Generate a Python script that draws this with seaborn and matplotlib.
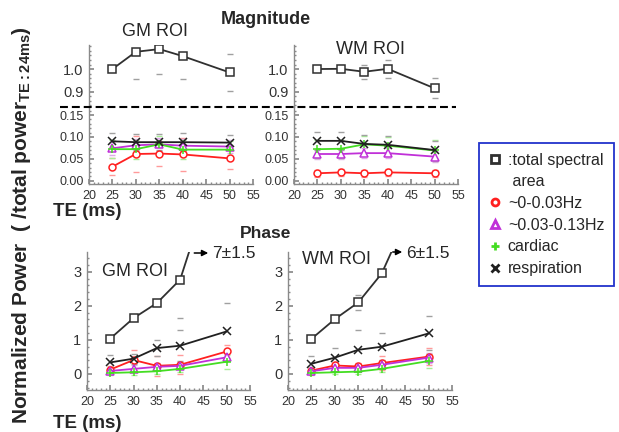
import numpy as np
import matplotlib
matplotlib.use("Agg")
import matplotlib.pyplot as plt
from matplotlib.lines import Line2D
from matplotlib.ticker import MultipleLocator, FormatStrFormatter
import seaborn as sns

W, H = 619, 432

te = [25, 30, 35, 40, 50]

# magnitude, GM ROI (normalised to total power at TE 24 ms)
gm_mag_total = [1.0, 1.076, 1.088, 1.057, 0.985]
gm_mag_total_err = [0.0, 0.12, 0.11, 0.10, 0.08]
gm_mag_slow = [0.032, 0.061, 0.062, 0.060, 0.051]
gm_mag_slow_err = [0.02, 0.042, 0.028, 0.037, 0.024]
gm_mag_mid = [0.074, 0.081, 0.083, 0.080, 0.078]
gm_mag_mid_err = [0.015, 0.015, 0.015, 0.015, 0.015]
gm_mag_card = [0.072, 0.072, 0.083, 0.071, 0.071]
gm_mag_card_err = [0.02, 0.022, 0.02, 0.022, 0.02]
gm_mag_resp = [0.090, 0.088, 0.088, 0.088, 0.087]
gm_mag_resp_err = [0.018, 0.018, 0.018, 0.02, 0.018]

# magnitude, WM ROI
wm_mag_total = [1.0, 1.001, 0.988, 1.001, 0.915]
wm_mag_total_err = [0.0, 0.015, 0.03, 0.04, 0.044]
wm_mag_slow = [0.017, 0.019, 0.017, 0.019, 0.017]
wm_mag_slow_err = [0.008, 0.008, 0.008, 0.008, 0.008]
wm_mag_mid = [0.061, 0.061, 0.063, 0.063, 0.055]
wm_mag_mid_err = [0.012, 0.012, 0.012, 0.012, 0.012]
wm_mag_card = [0.072, 0.073, 0.083, 0.080, 0.069]
wm_mag_card_err = [0.02, 0.02, 0.02, 0.02, 0.025]
wm_mag_resp = [0.091, 0.091, 0.084, 0.082, 0.070]
wm_mag_resp_err = [0.02, 0.02, 0.02, 0.02, 0.02]

# phase, GM ROI
gm_ph_total = [1.04, 1.64, 2.08, 2.77, 7.0]
gm_ph_total_err = [0.0, 0.0, 0.0, 1.13, 1.5]
gm_ph_slow = [0.13, 0.41, 0.24, 0.27, 0.66]
gm_ph_slow_err = [0.1, 0.28, 0.3, 0.28, 0.2]
gm_ph_mid = [0.09, 0.15, 0.21, 0.24, 0.49]
gm_ph_mid_err = [0.08, 0.1, 0.1, 0.1, 0.12]
gm_ph_card = [0.03, 0.05, 0.08, 0.15, 0.36]
gm_ph_card_err = [0.06, 0.08, 0.08, 0.1, 0.2]
gm_ph_resp = [0.34, 0.45, 0.76, 0.83, 1.25]
gm_ph_resp_err = [0.21, 0.15, 0.23, 0.46, 0.83]

# phase, WM ROI
wm_ph_total = [1.03, 1.61, 2.10, 2.95, 6.0]
wm_ph_total_err = [0.0, 0.0, 0.22, 0.0, 1.5]
wm_ph_slow = [0.10, 0.25, 0.22, 0.32, 0.51]
wm_ph_slow_err = [0.08, 0.1, 0.1, 0.2, 0.26]
wm_ph_mid = [0.08, 0.18, 0.18, 0.27, 0.48]
wm_ph_mid_err = [0.06, 0.08, 0.08, 0.1, 0.15]
wm_ph_card = [0.03, 0.05, 0.07, 0.15, 0.38]
wm_ph_card_err = [0.05, 0.06, 0.07, 0.1, 0.2]
wm_ph_resp = [0.30, 0.48, 0.71, 0.80, 1.19]
wm_ph_resp_err = [0.24, 0.28, 0.58, 0.40, 0.50]

legend_labels = [":total spectral", " area", "~0-0.03Hz", "~0.03-0.13Hz",
                 "cardiac", "respiration"]

styles = {
    "total": dict(color="#303030", marker="s", ms=5.5, cap="#a0a0a0"),
    "slow": dict(color="#ff2020", marker="o", ms=5, cap="#ff9a9a"),
    "mid": dict(color="#c030d8", marker="^", ms=5.5, cap="#e0a8e8"),
    "card": dict(color="#44dd22", marker="+", ms=6, cap="#a8ee98"),
    "resp": dict(color="#202020", marker="x", ms=5.5, cap="#a0a0a0"),
}

sns.set_theme(style="white")
plt.rcParams["font.family"] = ["Liberation Sans", "DejaVu Sans"]
plt.rcParams["mathtext.fontset"] = "custom"
plt.rcParams["mathtext.rm"] = "Liberation Sans"

fig = plt.figure(figsize=(W / 100, H / 100), dpi=100)


def px(x, y):
    return x / W, 1 - y / H


def make_ax(x0, y0, x1, y1):
    ax = fig.add_axes([x0 / W, 1 - y1 / H, (x1 - x0) / W, (y1 - y0) / H])
    ax.set_facecolor("none")
    for s in ["top", "right"]:
        ax.spines[s].set_visible(False)
    for s in ["left", "bottom"]:
        ax.spines[s].set_color("#8a8a8a")
        ax.spines[s].set_linewidth(1.0)
    ax.tick_params(which="both", direction="in", colors="#8a8a8a",
                   labelcolor="#333333", left=True, bottom=True)
    ax.tick_params(which="major", length=3.5)
    ax.tick_params(which="minor", length=1.5)
    return ax


def draw(ax, panel):
    for key, (vals, errs) in panel.items():
        st = styles[key]
        ax.errorbar(te, vals, yerr=errs, fmt="none", ecolor=st["cap"],
                    elinewidth=0, capsize=2, capthick=1, zorder=1)
        sns.lineplot(x=te, y=vals, ax=ax, color=st["color"], marker=st["marker"],
                     ms=st["ms"], mfc="white" if st["marker"] in "so^" else st["color"],
                     mec=st["color"], mew=1.1, lw=1.3, errorbar=None, zorder=3)


def xaxis(ax):
    ax.set_xlim(20, 55)
    ax.xaxis.set_major_locator(MultipleLocator(5))
    ax.xaxis.set_minor_locator(MultipleLocator(1))
    ax.tick_params(axis="x", labelsize=9, pad=4)
    ax.set_xlabel("")


gm_mag = {
    "total": (gm_mag_total, gm_mag_total_err),
    "slow": (gm_mag_slow, gm_mag_slow_err),
    "mid": (gm_mag_mid, gm_mag_mid_err),
    "card": (gm_mag_card, gm_mag_card_err),
    "resp": (gm_mag_resp, gm_mag_resp_err),
}
wm_mag = {
    "total": (wm_mag_total, wm_mag_total_err),
    "slow": (wm_mag_slow, wm_mag_slow_err),
    "mid": (wm_mag_mid, wm_mag_mid_err),
    "card": (wm_mag_card, wm_mag_card_err),
    "resp": (wm_mag_resp, wm_mag_resp_err),
}
gm_ph = {
    "total": (gm_ph_total, gm_ph_total_err),
    "slow": (gm_ph_slow, gm_ph_slow_err),
    "mid": (gm_ph_mid, gm_ph_mid_err),
    "card": (gm_ph_card, gm_ph_card_err),
    "resp": (gm_ph_resp, gm_ph_resp_err),
}
wm_ph = {
    "total": (wm_ph_total, wm_ph_total_err),
    "slow": (wm_ph_slow, wm_ph_slow_err),
    "mid": (wm_ph_mid, wm_ph_mid_err),
    "card": (wm_ph_card, wm_ph_card_err),
    "resp": (wm_ph_resp, wm_ph_resp_err),
}

# magnitude panels: broken y axis (upper + lower part)
split_y = 106.7
for panel, (x0, x1) in [(gm_mag, (89, 253)), (wm_mag, (294, 458))]:
    up = make_ax(x0, 45, x1, split_y)
    lo = make_ax(x0, split_y, x1, 184)
    for ax in (up, lo):
        draw(ax, panel)
        xaxis(ax)
    up.spines["bottom"].set_visible(False)
    up.tick_params(axis="x", which="both", bottom=False, labelbottom=False)
    up.set_ylim(0.834, 1.106)
    up.set_yticks([0.9, 1.0])
    up.yaxis.set_minor_locator(MultipleLocator(0.02))
    up.yaxis.set_major_formatter(FormatStrFormatter("%.1f"))
    up.tick_params(axis="y", labelsize=10.5, pad=4)
    lo.set_ylim(-0.0075, 0.169)
    lo.set_yticks([0.0, 0.05, 0.10, 0.15])
    lo.yaxis.set_minor_locator(MultipleLocator(0.01))
    lo.yaxis.set_major_formatter(FormatStrFormatter("%.2f"))
    lo.tick_params(axis="y", labelsize=9, pad=4)
    up.set_ylabel("")
    lo.set_ylabel("")

fig.add_artist(Line2D([60 / W, 456 / W], [1 - split_y / H] * 2, color="black",
                      lw=1.5, ls=(0, (3.8, 1.9))))

# phase panels
ph_axes = []
for panel, (x0, x1) in [(gm_ph, (87, 250)), (wm_ph, (288, 452))]:
    ax = make_ax(x0, 252, x1, 390)
    draw(ax, panel)
    xaxis(ax)
    ax.set_ylim(-0.47, 3.58)
    ax.set_yticks([0, 1, 2, 3])
    ax.yaxis.set_minor_locator(MultipleLocator(0.2))
    ax.tick_params(axis="y", labelsize=10.5, pad=4)
    ax.set_ylabel("")
    ph_axes.append(ax)

# off-scale total power values at TE 50 ms
for ax, vals, errs, tail, head in [
        (ph_axes[0], gm_ph_total, gm_ph_total_err, (191.5, 253), (211, 253)),
        (ph_axes[1], wm_ph_total, wm_ph_total_err, (390, 252), (405, 252))]:
    fig.add_artist(matplotlib.patches.FancyArrowPatch(
        px(*tail), px(*head), transform=fig.transFigure, arrowstyle="-|>",
        mutation_scale=9, color="black", lw=1.1))
    fig.text(*px(head[0] + 1.5, 254), f"{vals[-1]:.0f}\u00b1{errs[-1]:g}",
             fontsize=12.5, va="center", ha="left")

# titles and labels
fig.text(*px(266, 20), "Magnitude", fontsize=13, fontweight="bold",
         ha="center", va="center")
fig.text(*px(266, 233), "Phase", fontsize=12.5, fontweight="bold",
         ha="center", va="center")
for y in (211, 423):
    fig.text(*px(53, y), "TE (ms)", fontsize=13.5, fontweight="bold",
             ha="left", va="center")
fig.text(*px(155, 32), "GM ROI", fontsize=13, ha="center", va="center")
fig.text(*px(371, 50), "WM ROI", fontsize=13, ha="center", va="center")
fig.text(*px(135, 272), "GM ROI", fontsize=13, ha="center", va="center")
fig.text(*px(336, 260), "WM ROI", fontsize=13, ha="center", va="center")
fig.text(*px(22, 225),
         "Normalized Power  ( /total power$_{\\mathregular{TE:24ms}}$)",
         fontsize=15, fontweight="bold", rotation=90, ha="center", va="center")

# legend
handles = []
for key in ["total", None, "slow", "mid", "card", "resp"]:
    if key is None:
        handles.append(Line2D([], [], ls="none", marker=None))
        continue
    st = styles[key]
    handles.append(Line2D([], [], ls="none", marker=st["marker"], ms=st["ms"],
                          mfc="white" if st["marker"] in "so^" else st["color"],
                          mec=st["color"], mew=2))
fig.legend(handles, legend_labels, loc="upper left",
           bbox_to_anchor=px(479, 143), frameon=True, fancybox=False,
           edgecolor="#2233cc", framealpha=1, fontsize=11.5, handlelength=0.8,
           handletextpad=0.4, labelspacing=0.42, borderpad=0.6, borderaxespad=0)
fig.legends[0].get_frame().set_linewidth(1.3)

fig.savefig("out.png", dpi=100, facecolor="white")
